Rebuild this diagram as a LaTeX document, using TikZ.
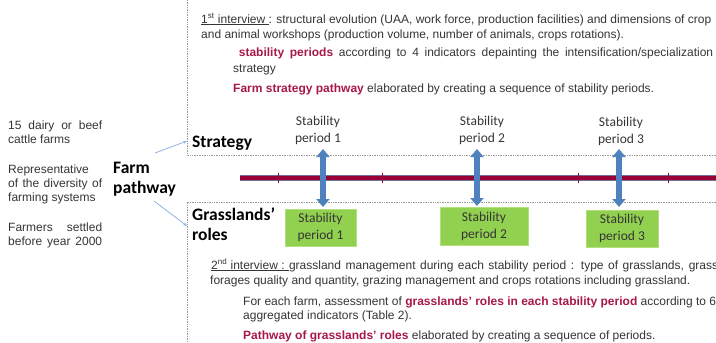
\documentclass[tikz,border=0pt]{standalone}
\usepackage{fontspec}
\setmainfont{Liberation Sans}
\newfontfamily\calibri{Carlito}
\usetikzlibrary{arrows.meta}
\definecolor{txt}{HTML}{353535}
\definecolor{crim}{HTML}{A8174A}
\definecolor{linered}{HTML}{990033}
\definecolor{lineedge}{HTML}{6F6F9A}
\definecolor{barblue}{HTML}{4F81BD}
\definecolor{thinblue}{HTML}{8EB4E3}
\definecolor{boxgreen}{HTML}{92D050}
\definecolor{boxedge}{HTML}{B3E07E}
\definecolor{dotgray}{HTML}{9A9A9A}
\tikzset{
  bodytext/.style={anchor=base west, inner sep=0pt, text=txt, font=\fontsize{12}{14}\selectfont},
  headtext/.style={anchor=base west, inner sep=0pt, text=black, font=\calibri\bfseries\fontsize{17.5}{20}\selectfont},
  toplabel/.style={inner sep=0pt, align=center, text=txt, font=\calibri\fontsize{13.5}{17}\selectfont},
  greenbox/.style={fill=boxgreen, draw=boxedge, line width=0.8pt, minimum width=71pt, minimum height=37pt, inner sep=0pt, align=center, text=txt, font=\calibri\fontsize{13.5}{17}\selectfont},
  dotline/.style={draw=dotgray, line width=0.7pt, densely dotted},
  bigarrow/.style={draw=barblue, line width=6pt, {Triangle[width=13pt,length=8pt]}-{Triangle[width=13pt,length=8pt]}},
  thinarrow/.style={draw=thinblue, line width=0.8pt, -{Stealth[length=4pt,width=3.5pt]}},
  tick/.style={draw=linered, line width=0.8pt}
}
\newcommand{\hl}[1]{\textcolor{crim}{\bfseries #1}}
\begin{document}
\begin{tikzpicture}[x=1pt,y=-1pt]
\useasboundingbox (0,0) rectangle (716,343);
\clip (0,0) rectangle (716,343);

% dotted boxes
\coordinate (ub0) at (187,0);
\coordinate (ub1) at (187,155);
\coordinate (ub2) at (716,155);
\draw[dotline] (ub0) -- (ub1) -- (ub2);
\coordinate (lb0) at (716,202);
\coordinate (lb1) at (187,202);
\coordinate (lb2) at (187,343);
\draw[dotline] (lb0) -- (lb1) -- (lb2);

% upper text
\node[bodytext] (t1) at (201,23) {\underline{1\textsuperscript{st} interview }: structural evolution (UAA, work force, production facilities) and dimensions of crop};
\node[bodytext] (t2) at (201,38) {and animal workshops (production volume, number of animals, crops rotations).};
\node[bodytext] (t3) at (233,56) {\makebox[480pt][s]{\ \hl{stability periods} according to 4 indicators depainting the intensification/specialization}};
\node[bodytext] (t4) at (233,72) {strategy};
\node[bodytext] (t5) at (233,92) {\hl{Farm strategy pathway} elaborated by creating a sequence of stability periods.};

% lower text
\node[bodytext] (b1) at (211,269) {\makebox[507pt][s]{\underline{2\textsuperscript{nd} interview : }grassland management during each stability period : type of grasslands, grass}};
\node[bodytext] (b2) at (210,284) {forages quality and quantity, grazing management and crops rotations including grassland.};
\node[bodytext] (b3) at (243,305) {For each farm, assessment of \hl{grasslands' roles in each stability period} according to 6};
\node[bodytext] (b4) at (243,319) {aggregated indicators (Table 2).};
\node[bodytext] (b5) at (243,339) {\hl{Pathway of grasslands' roles} elaborated by creating a sequence of periods.};

% left text
\node[bodytext] (l1) at (8,129) {\makebox[94pt][s]{15 dairy or beef}};
\node[bodytext] (l2) at (8,143) {cattle farms};
\node[bodytext] (l3) at (8,173) {Representative};
\node[bodytext] (l4) at (8,187) {\makebox[94pt][s]{of the diversity of}};
\node[bodytext] (l5) at (8,201) {farming systems};
\node[bodytext] (l6) at (8,231) {\makebox[94pt][s]{Farmers settled}};
\node[bodytext] (l7) at (8,245) {\makebox[94pt][s]{before year 2000}};

% headings
\node[headtext] (fp1) at (113,173) {Farm};
\node[headtext] (fp2) at (113,193) {pathway};
\node[headtext] (str) at (192,147) {Strategy};
\node[headtext] (gr1) at (192,220) {Grasslands’};
\node[headtext] (gr2) at (192,240) {roles};

% thin arrows
\coordinate (ta0) at (155,153);
\coordinate (ta1) at (187,141);
\coordinate (tb0) at (154,201);
\coordinate (tb1) at (187,226);
\draw[thinarrow] (ta0) -- (ta1);
\draw[thinarrow] (tb0) -- (tb1);

% timeline
\coordinate (tl0) at (240,178);
\coordinate (tl1) at (716,178);
\draw[draw=lineedge, line width=6.2pt] (tl0) -- (tl1);
\draw[draw=linered, line width=4.4pt] (tl0) -- (tl1);
\foreach \x/\n in {278/k1,382/k2,578/k3,668/k4}{
  \coordinate (\n a) at (\x,173);
  \coordinate (\n b) at (\x,183);
  \draw[tick] (\n a) -- (\n b);
}

% top labels
\node[toplabel] (s1) at (318,130) {Stability\\period 1};
\node[toplabel] (s2) at (482,130.5) {Stability\\period 2};
\node[toplabel] (s3) at (621,131) {Stability\\period 3};

% green boxes
\node[greenbox] (g1) at (320.5,227.5) {Stability\\period 1};
\node[greenbox, minimum width=88pt, minimum height=38pt] (g2) at (484,226) {Stability\\period 2};
\node[greenbox, minimum width=72pt] (g3) at (622,228.5) {Stability\\period 3};

% big double arrows
\coordinate (a1t) at (323,149);
\coordinate (a1b) at (323,207);
\coordinate (a2t) at (477,149);
\coordinate (a2b) at (477,206);
\coordinate (a3t) at (619,149);
\coordinate (a3b) at (619,207);
\draw[bigarrow] (a1t) -- (a1b);
\draw[bigarrow] (a2t) -- (a2b);
\draw[bigarrow] (a3t) -- (a3b);
\end{tikzpicture}
\end{document}
